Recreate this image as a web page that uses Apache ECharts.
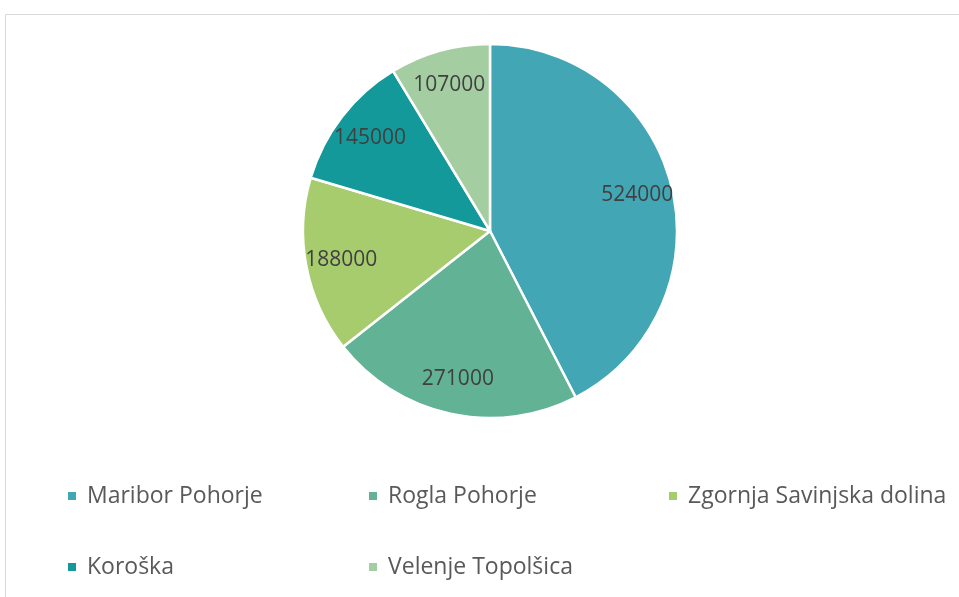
<!DOCTYPE html>
<html>
<head>
<meta charset="utf-8">
<script src="https://cdn.jsdelivr.net/npm/echarts@6/dist/echarts.min.js"></script>
<style>
  html, body { margin: 0; padding: 0; background: #fff; }
  #myChart { width: 959px; height: 597px; }
</style>
</head>
<body>
<div id="myChart"></div>
<script>
// data
const regions = ['Maribor Pohorje', 'Rogla Pohorje', 'Zgornja Savinjska dolina', 'Koroška', 'Velenje Topolšica'];
const visitors = [524000, 271000, 188000, 145000, 107000];
const colors = ['#42A6B4', '#62B296', '#A6CC6E', '#14999A', '#A4CEA1'];

const pieData = regions.map((name, i) => ({ name: name, value: visitors[i] }));
const font = '"Open Sans", "Noto Sans", sans-serif';

function legendBlock(names, left) {
    return {
        orient: 'vertical',
        left: left,
        top: 483,
        padding: 0,
        itemWidth: 10,
        itemHeight: 10,
        itemGap: 45,
        icon: 'rect',
        data: names,
        textStyle: {
            color: '#595959',
            fontFamily: font,
            fontSize: 23,
            lineHeight: 26,
            padding: [0, 0, 0, 5]
        }
    };
}

let myEchart = echarts.init(document.getElementById('myChart'));
myEchart.setOption({
    color: colors,
    animation: false,
    graphic: [{
        type: 'rect',
        shape: { x: 5.5, y: 14.5, width: 1000, height: 1000 },
        style: { fill: 'none', stroke: '#d9d9d9', lineWidth: 1 },
        silent: true
    }],
    legend: [
        legendBlock([regions[0], regions[3]], 66),
        legendBlock([regions[1], regions[4]], 367),
        legendBlock([regions[2]], 667)
    ],
    series: [
        {
            // the slices
            type: 'pie',
            center: [490, 231],
            radius: 187,
            startAngle: 90,
            clockwise: true,
            silent: true,
            itemStyle: { borderColor: '#fff', borderWidth: 2.5 },
            label: { show: false },
            labelLine: { show: false },
            data: pieData
        },
        {
            // transparent ring that only carries the value labels further out
            type: 'pie',
            center: [490, 231],
            radius: [110, 187],
            startAngle: 90,
            clockwise: true,
            silent: true,
            itemStyle: { color: 'rgba(0,0,0,0)', borderWidth: 0 },
            label: {
                show: true,
                position: 'inside',
                formatter: '{c}',
                color: '#404040',
                fontFamily: font,
                fontSize: 21
            },
            labelLine: { show: false },
            data: pieData
        }
    ]
});
window.addEventListener('resize', function () {
    myEchart.resize();
});
</script>
</body>
</html>
